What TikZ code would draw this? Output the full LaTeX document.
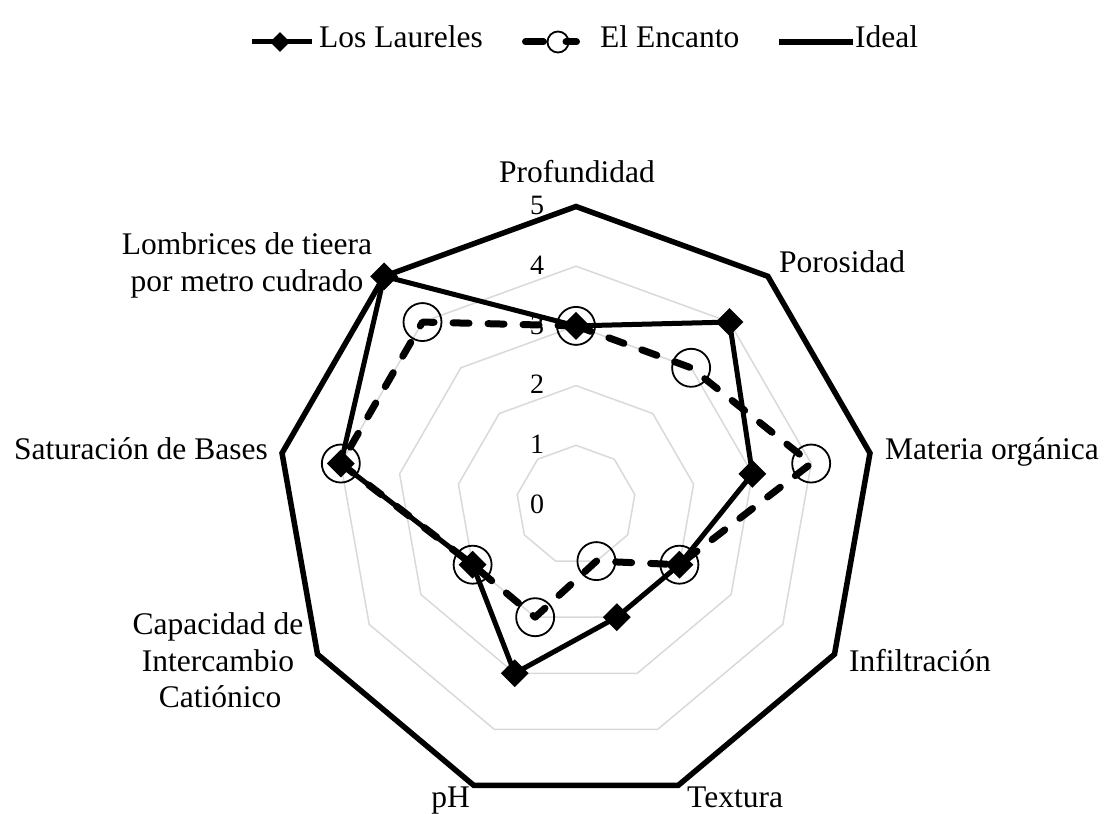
\documentclass[tikz,border=0pt]{standalone}
\usepackage{fontspec}
\setmainfont{Liberation Serif}
\usetikzlibrary{calc,shapes.geometric}
\definecolor{gridgray}{RGB}{217,217,217}
\begin{document}
\begin{tikzpicture}[x=1pt,y=1pt,
  grid/.style={draw=gridgray, line width=1.5pt, line join=miter},
  ideal/.style={draw=black, line width=5.5pt, line join=miter},
  laureles/.style={draw=black, line width=5pt, line join=round},
  encanto/.style={draw=black, line width=7pt, line cap=round, line join=round, dash pattern=on 16pt off 19pt},
  lmark/.style={diamond, fill=black, inner sep=0pt, minimum width=28pt, minimum height=28pt},
  emark/.style={circle, draw=black, line width=1.8pt, inner sep=0pt, minimum size=38pt},
  lmarksmall/.style={diamond, fill=black, inner sep=0pt, minimum width=20pt, minimum height=20pt},
  emarksmall/.style={circle, draw=black, line width=1.8pt, inner sep=0pt, minimum size=21pt},
  lab/.style={inner sep=0pt, font=\fontsize{31.5}{36.5}\selectfont},
  num/.style={inner sep=0pt, font=\fontsize{28}{32}\selectfont},
  leg/.style={inner sep=0pt, font=\fontsize{31.5}{36}\selectfont, anchor=base west},
]
\useasboundingbox (0,0) rectangle (1106,814);
\def\U{59.7}
\coordinate (C) at (576,309);

% grid rings
\foreach \k in {1,2,3,4} {
  \pgfmathsetmacro{\r}{\k*\U}
  \draw[grid] ($(C)+(90:\r pt)$) \foreach \j in {1,...,8} { -- ($(C)+({90-40*\j}:\r pt)$) } -- cycle;
}

% value labels
\foreach \k in {0,...,5} {
  \node[num] (n\k) at ($(C)+(-39pt,{\k*\U*1pt+1pt})$) {\k};
}

% data coordinates
\foreach \v [count=\i from 0] in {5,5,5,5,5,5,5,5,5} {
  \coordinate (I\i) at ($(C)+({90-40*\i}:{\v*\U*1pt})$);
}
\foreach \v [count=\i from 0] in {3,4,3,2,2,3,2,4,5} {
  \coordinate (L\i) at ($(C)+({90-40*\i}:{\v*\U*1pt})$);
}
\foreach \v [count=\i from 0] in {3,3,4,2,1,2,2,4,4} {
  \coordinate (E\i) at ($(C)+({90-40*\i}:{\v*\U*1pt})$);
}

% series
\draw[ideal] (I0) -- (I1) -- (I2) -- (I3) -- (I4) -- (I5) -- (I6) -- (I7) -- (I8) -- cycle;
\draw[laureles] (L0) -- (L1) -- (L2) -- (L3) -- (L4) -- (L5) -- (L6) -- (L7) -- (L8) -- cycle;
\draw[encanto] (E0) -- (E1) -- (E2) -- (E3) -- (E4) -- (E5) -- (E6) -- (E7) -- (E8) -- cycle;
\foreach \i in {0,...,8} { \node[emark] (em\i) at (E\i) {}; }
\foreach \i in {0,...,8} { \node[lmark] (lm\i) at (L\i) {}; }

% axis labels
\node[lab, anchor=base] (tProf) at (577,631) {Profundidad};
\node[lab, anchor=base west] (tPoro) at (779,541) {Porosidad};
\node[lab, anchor=base west] (tMat) at (885,354) {Materia orgánica};
\node[lab, anchor=base west] (tInf) at (849,142) {Infiltración};
\node[lab, anchor=base west] (tTex) at (687,6) {Textura};
\node[lab, anchor=base east] (tPH) at (470,6) {pH};
\node[lab, anchor=base] (tCIC1) at (218,179) {Capacidad de};
\node[lab, anchor=base] (tCIC2) at (218,142) {Intercambio};
\node[lab, anchor=base] (tCIC3) at (220,106) {Catiónico};
\node[lab, anchor=base east] (tSat) at (268,354) {Saturación de Bases};
\node[lab, anchor=base] (tLom1) at (247,559) {Lombrices de tieera};
\node[lab, anchor=base] (tLom2) at (247,522) {por metro cudrado};

% legend
\coordinate (la) at (252,772); \coordinate (lb) at (312,772);
\draw[laureles] (la) -- (lb);
\node[lmarksmall] (lgL) at (280,772) {};
\node[leg] (lgLt) at (319,766) {Los Laureles};
\coordinate (ea) at (525.5,772); \coordinate (eb) at (576.5,772);
\draw[encanto, dash pattern=on 18pt off 22.5pt on 10.5pt off 100pt] (ea) -- (eb);
\node[emarksmall] (lgE) at (558,772) {};
\node[leg] (lgEt) at (600,766) {El Encanto};
\coordinate (ia) at (779,772); \coordinate (ib) at (853,772);
\draw[ideal] (ia) -- (ib);
\node[leg] (lgIt) at (855,766) {Ideal};
\end{tikzpicture}
\end{document}
